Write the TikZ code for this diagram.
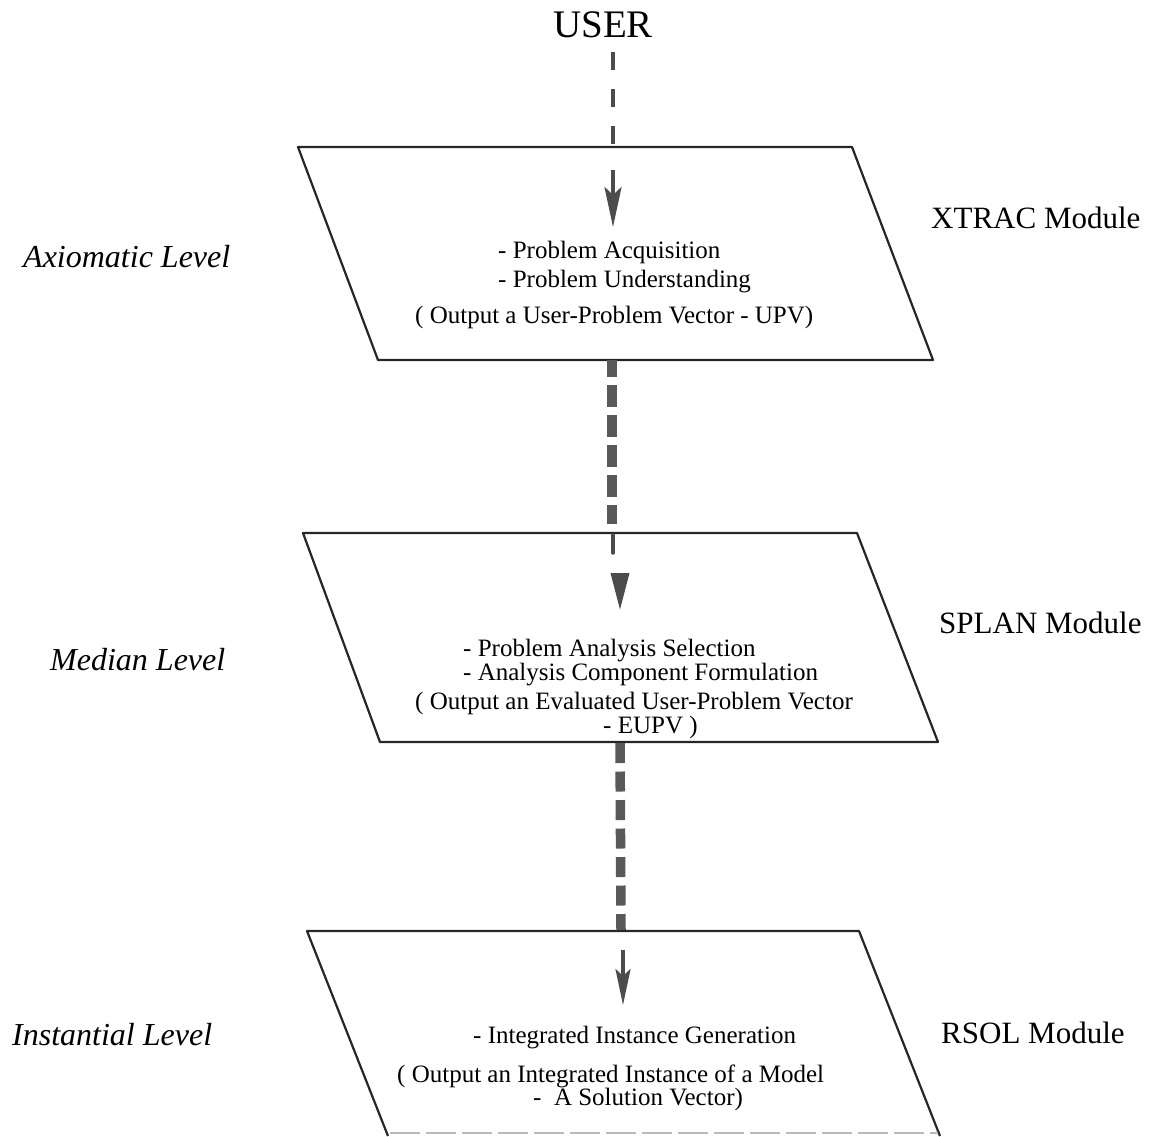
\documentclass[tikz,border=0pt]{standalone}
\usepackage{fontspec}
\setmainfont{Liberation Serif}
\usetikzlibrary{arrows.meta}
\begin{document}
\begin{tikzpicture}[x=1pt,y=-1pt,
  boxline/.style={line width=2.2pt, line join=round, draw=black!85},
  txt/.style={anchor=base west, inner sep=0pt, font=\fontsize{25}{28}\selectfont},
  lvl/.style={anchor=base west, inner sep=0pt, font=\fontsize{32}{36}\selectfont\itshape},
  modl/.style={anchor=base west, inner sep=0pt, font=\fontsize{31}{34}\selectfont},
  thinflow/.style={line width=3.5pt, draw=black!70, dash pattern=on 18pt off 19pt},
  thickflow/.style={line width=9.5pt, draw=black!65},
  headarrow/.style={line width=3.5pt, draw=black!70, fill=black!70}
]
\useasboundingbox (0,0) rectangle (1153,1136);

% USER
\node[anchor=base west, inner sep=0pt, font=\fontsize{39}{42}\selectfont] (user) at (553,37) {USER};
\coordinate (u0) at (613,52);

% Box 1
\draw[boxline] (298,147) -- (852,147) -- (933,360) -- (378,360) -- cycle;
\coordinate (b1top) at (613,147);
\coordinate (b1bot) at (612,360);
\coordinate (a1s) at (613,170);
\coordinate (a1e) at (613,227);
\node[txt] (t11) at (498,258) {- Problem Acquisition};
\node[txt] (t12) at (498,287) {- Problem Understanding};
\node[txt] (t13) at (415,323) {( Output a User-Problem Vector - UPV)};

% Box 2
\draw[boxline] (303,533) -- (857,533) -- (938,742) -- (380,742) -- cycle;
\coordinate (b2top) at (612,524);
\coordinate (b2s) at (613,535);
\coordinate (b2e) at (613,553);
\coordinate (a2s) at (620,573);
\coordinate (a2e) at (620,610);
\coordinate (b2bot) at (620,743);
\node[txt] (t21) at (463,656) {- Problem Analysis Selection};
\node[txt] (t22) at (463,680) {- Analysis Component Formulation};
\node[txt] (t23) at (415,709) {( Output an Evaluated User-Problem Vector};
\node[txt] (t24) at (603,733) {- EUPV )};

% Box 3
\draw[boxline] (388,1136) -- (307,931) -- (859,931) -- (940,1136);
\draw[gray!55, line width=1.6pt, dash pattern=on 30pt off 6pt] (390,1133) -- (938,1133);
\coordinate (b3top) at (621,930);
\coordinate (a3s) at (623,950);
\coordinate (a3e) at (623,1005);
\node[txt] (t31) at (473,1043) {- Integrated Instance Generation};
\node[txt] (t32) at (397,1082) {( Output an Integrated Instance of a Model};
\node[txt] (t33) at (533,1105) {-\ \ A Solution Vector)};

% Level labels
\node[lvl] (l1) at (23,267) {Axiomatic Level};
\node[lvl] (l2) at (50,670) {Median Level};
\node[lvl] (l3) at (12,1045) {Instantial Level};

% Module labels
\node[modl] (m1) at (931,228) {XTRAC Module};
\node[modl] (m2) at (939,633) {SPLAN Module};
\node[modl] (m3) at (941,1043) {RSOL Module};

% Connectors
\draw[thinflow] (u0) -- (b1top);
\draw[line width=3.5pt, draw=black!70, -{Stealth[length=40pt,width=17pt,inset=8pt]}] (a1s) -- (a1e);

\draw[thickflow, dash pattern=on 22pt off 8pt, dash phase=5pt] (b1bot) -- (b2top);
\draw[line width=3.5pt, draw=black!70, line cap=round] (b2s) -- (b2e);
\draw[headarrow, -{Triangle[length=37pt,width=18pt]}] (a2s) -- (a2e);

\draw[thickflow, dash pattern=on 20pt off 8.5pt] (b2bot) -- (b3top);
\draw[line width=3.5pt, draw=black!70, -{Stealth[length=36pt,width=15pt,inset=7pt]}] (a3s) -- (a3e);
\end{tikzpicture}
\end{document}
